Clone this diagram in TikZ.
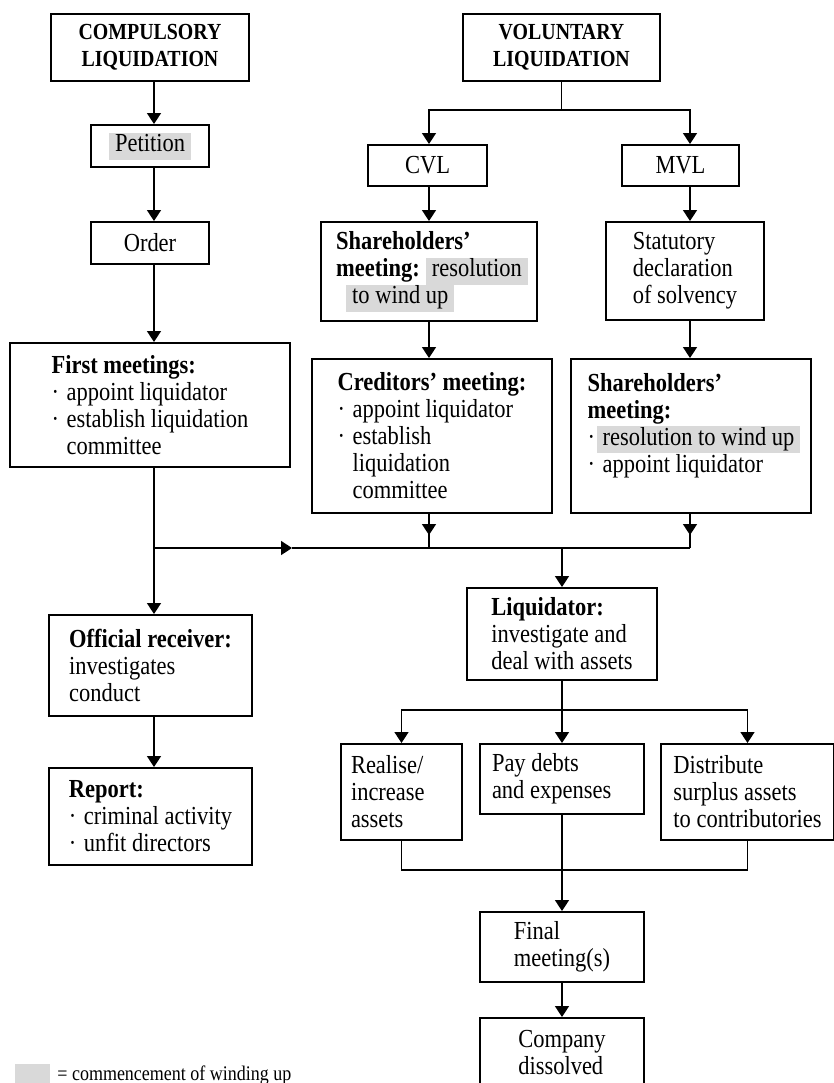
\documentclass[tikz,border=0pt]{standalone}
\usepackage{fontspec}
\setmainfont{Liberation Serif}[FakeStretch=0.865]
\usetikzlibrary{arrows.meta}

\definecolor{shade}{HTML}{D9D9D9}
\newcommand{\boxfont}{\fontsize{13}{13.5}\selectfont}
\newcommand{\titlefont}{\fontsize{11.5}{13.5}\selectfont\bfseries}
\newcommand{\keyfont}{\fontsize{10.4}{12}\selectfont}
\newcommand{\hl}[1]{\kern-3pt{\setlength{\fboxsep}{0pt}\colorbox{shade}{\kern3pt\strut#1\kern3pt}}\kern-3pt}
\newcommand{\bul}{\makebox[7.5pt][l]{\textperiodcentered}}
\newcommand{\ind}{\hspace*{7.5pt}}

\begin{document}
\begin{tikzpicture}[x=0.5pt, y=-0.5pt,
		box/.style = {draw, line width=1pt, anchor=north west,
			align=flush left, inner sep=0pt, font=\boxfont},
		titlebox/.style = {box, align=center, font=\titlefont},
		link/.style = {line width=0.8pt},
		arrowto/.style = {link, -{Triangle[length=5.5pt, width=7pt]}}]
	\useasboundingbox (0,0) rectangle (834,1083);

	% compulsory side
	\node[titlebox, minimum width=99pt, minimum height=33.5pt] (comp) at (50,13) {COMPULSORY\\LIQUIDATION};
	\node[box, align=center, minimum width=59pt, minimum height=21pt] (pet) at (90,124) {\hl{Petition}};
	\node[box, align=center, minimum width=59pt, minimum height=21pt] (order) at (90,221) {Order};
	\node[box, minimum width=140pt, minimum height=62pt] (first) at (9,342)
		{\textbf{First meetings:}\\\bul appoint liquidator\\\bul establish liquidation\\\ind committee};
	\node[box, minimum width=101.5pt, minimum height=50.5pt] (offrec) at (48,614)
		{\textbf{Official receiver:}\\investigates\\conduct};
	\node[box, minimum width=101.5pt, minimum height=48.5pt] (report) at (48,767)
		{\textbf{Report:}\\\bul criminal activity\\\bul unfit directors};

	% voluntary side
	\node[titlebox, minimum width=98.5pt, minimum height=33.5pt] (vol) at (462,13) {VOLUNTARY\\LIQUIDATION};
	\node[box, align=center, minimum width=59.5pt, minimum height=20.5pt] (cvl) at (367,144) {CVL};
	\node[box, align=center, minimum width=58.5pt, minimum height=20.5pt] (mvl) at (621,144) {MVL};
	\node[box, minimum width=108pt, minimum height=49.5pt] (cvlsh) at (320,221)
		{\textbf{Shareholders'}\\\textbf{meeting:}\hspace{6pt}\hl{resolution}\\\hspace*{8pt}\hl{to wind up}};
	\node[box, minimum width=79pt, minimum height=49pt] (stat) at (605,221)
		{Statutory\\declaration\\of solvency};
	\node[box, minimum width=120pt, minimum height=77pt] (cred) at (311,358)
		{\textbf{Creditors' meeting:}\\\bul appoint liquidator\\\bul establish\\\ind liquidation\\\ind committee};
	\node[box, minimum width=120pt, minimum height=77pt] (mvlsh) at (570,358)
		{\textbf{Shareholders'}\\\textbf{meeting:}\\\bul\hl{resolution to wind up}\\\bul appoint liquidator\\\mbox{}};

	% liquidator and after
	\node[box, minimum width=95pt, minimum height=46pt] (liq) at (466,587)
		{\textbf{Liquidator:}\\investigate and\\deal with assets};
	\node[box, minimum width=60.5pt, minimum height=48pt, text width=50.5pt, inner xsep=5pt] (real) at (340,743)
		{Realise/\\increase\\assets};
	\node[box, minimum width=82pt, minimum height=35pt, text width=70pt, inner xsep=6pt] (pay) at (479,743)
		{Pay debts\\and expenses};
	\node[box, minimum width=86.5pt, minimum height=48pt] (dist) at (660,743)
		{Distribute\\surplus assets\\to contributories};
	\node[box, minimum width=82pt, minimum height=35pt] (final) at (479,911) {Final\\meeting(s)};
	\node[box, minimum width=82pt, minimum height=35pt] (gone) at (479,1017) {Company\\dissolved};

	% key
	\node[fill=shade, anchor=north west, minimum width=17.5pt, minimum height=17.5pt, inner sep=0pt] (key) at (15,1064) {};
	\node[anchor=base west, inner sep=0pt, font=\keyfont] (keytext) at (57,1080) {= commencement of winding up};

	% columns and joins
	\coordinate (colL) at (154,0);
	\coordinate (colC) at (429,0);
	\coordinate (colM) at (690,0);
	\coordinate (hj) at (154,548);
	\coordinate (hm) at (292,548);

	\draw[arrowto] (comp.south -| colL) -- (pet.north -| colL);
	\draw[arrowto] (pet.south -| colL) -- (order.north -| colL);
	\draw[arrowto] (order.south -| colL) -- (first.north -| colL);
	\draw[arrowto] (first.south -| colL) -- (offrec.north -| colL);
	\draw[arrowto] (offrec.south -| colL) -- (report.north -| colL);

	\draw[link] (vol.south) -- ++(0,28) coordinate (vj);
	\draw[arrowto] (vj) -| (cvl.north -| colC);
	\draw[arrowto] (vj) -| (mvl.north -| colM);
	\draw[arrowto] (cvl.south -| colC) -- (cvlsh.north -| colC);
	\draw[arrowto] (mvl.south -| colM) -- (stat.north -| colM);
	\draw[arrowto] (cvlsh.south -| colC) -- (cred.north -| colC);
	\draw[arrowto] (stat.south -| colM) -- (mvlsh.north -| colM);

	\draw[arrowto] (hj) -- (hm);
	\draw[link] (hm) -- (hj -| colM);
	\draw[link] (cred.south -| colC) -- (hj -| colC);
	\draw[arrowto] (cred.south -| colC) -- ++(0,21);
	\draw[link] (mvlsh.south -| colM) -- (hj -| colM);
	\draw[arrowto] (mvlsh.south -| colM) -- ++(0,21);
	\draw[arrowto] (hj -| liq.north) -- (liq.north);

	\draw[link] (liq.south) -- ++(0,29) coordinate (lj);
	\draw[arrowto] (lj) -| (real.north);
	\draw[arrowto] (lj) -- (pay.north);
	\draw[arrowto] (lj) -| (dist.north);
	\draw[link] (real.south) |- (pay.south |- 0,870) -| (dist.south);
	\draw[arrowto] (pay) -- (final);
	\draw[arrowto] (final) -- (gone);
\end{tikzpicture}
\end{document}
